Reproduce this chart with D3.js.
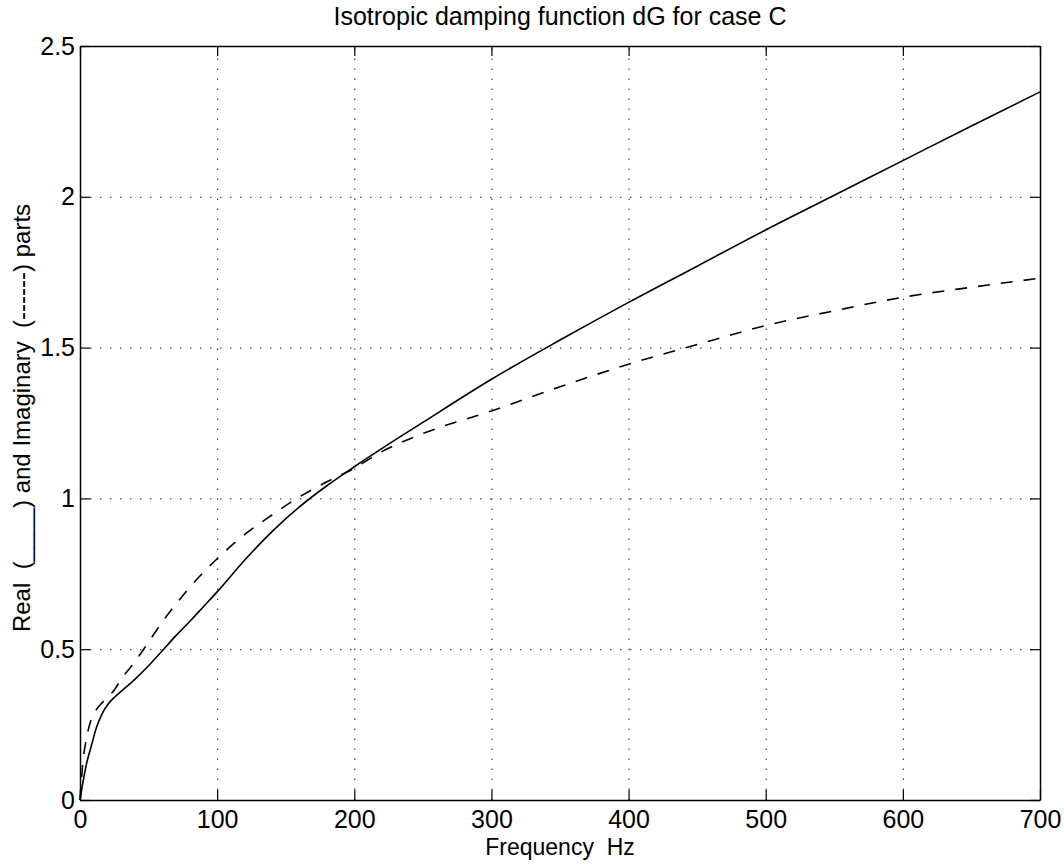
<!DOCTYPE html>
<html>
<head>
<meta charset="utf-8">
<script src="https://cdn.jsdelivr.net/npm/d3@7"></script>
<style>
    body { margin: 0; background: #fff; }
    #chart-area text { font-family: "Liberation Sans", Arial, Helvetica, sans-serif; fill: #000; white-space: pre; }
    .grid line { stroke: #222; stroke-width: 1; stroke-dasharray: 1.5, 8.5; }
    .grid .domain { display: none; }
    .axis .domain { stroke: #000; stroke-width: 1.5; }
    .axis line { stroke: #000; stroke-width: 1.2; }
</style>
</head>
<body>
<div id="chart-area"></div>
<script>

// frequency samples (Hz) and the two parts of dG
let frequency = [0, 2, 5, 8, 12, 16, 20, 25, 30, 40, 50, 60, 70, 80, 90, 100, 120, 140, 160, 180, 200, 220, 250, 300, 350, 400, 450, 500, 550, 600, 650, 700];
let realPart = [0, 0.055, 0.125, 0.175, 0.24, 0.285, 0.315, 0.34, 0.36, 0.40, 0.445, 0.495, 0.545, 0.592, 0.641, 0.69, 0.795, 0.89, 0.972, 1.042, 1.105, 1.165, 1.252, 1.395, 1.525, 1.65, 1.77, 1.89, 2.005, 2.12, 2.235, 2.348];
let imagPart = [0, 0.12, 0.21, 0.265, 0.30, 0.322, 0.34, 0.365, 0.40, 0.458, 0.524, 0.59, 0.65, 0.705, 0.755, 0.80, 0.88, 0.945, 1.005, 1.055, 1.10, 1.155, 1.215, 1.29, 1.37, 1.445, 1.51, 1.573, 1.622, 1.667, 1.70, 1.73];

let xTicks = [0, 100, 200, 300, 400, 500, 600, 700];
let yTicks = [0, 0.5, 1, 1.5, 2, 2.5];

let chartTitle = "Isotropic damping function dG for case C";
let xTitle = "Frequency  Hz";
let yTitle = "Real  (____) and Imaginary  (------) parts";


class DampingChart {
    constructor(parentElement) {
        this.parentElement = parentElement;
        this.initVis();
    }

    initVis() {
        let vis = this;

        vis.margin = {top: 46, right: 24, bottom: 64, left: 80};
        vis.width = 1064 - vis.margin.left - vis.margin.right;
        vis.height = 864 - vis.margin.top - vis.margin.bottom;

        vis.svg = d3.select("#" + vis.parentElement).append("svg")
            .attr("width", 1064)
            .attr("height", 864)
            .append("g")
            .attr("transform", `translate(${vis.margin.left}, ${vis.margin.top})`);

        vis.x = d3.scaleLinear()
            .domain([0, 700])
            .range([0, vis.width]);

        vis.y = d3.scaleLinear()
            .domain([0, 2.5])
            .range([vis.height, 0]);

        // dotted grid
        vis.svg.append("g")
            .attr("class", "grid")
            .attr("transform", `translate(0, ${vis.height})`)
            .call(d3.axisBottom(vis.x).tickValues(xTicks.slice(1, -1)).tickSize(-vis.height).tickFormat(""));

        vis.svg.append("g")
            .attr("class", "grid")
            .call(d3.axisLeft(vis.y).tickValues(yTicks.slice(1, -1)).tickSize(-vis.width).tickFormat(""));

        // box axes, ticks pointing inward like matlab
        vis.svg.append("g")
            .attr("class", "axis x-axis")
            .attr("transform", `translate(0, ${vis.height})`)
            .call(d3.axisBottom(vis.x).tickValues(xTicks).tickSizeInner(-10).tickSizeOuter(0).tickPadding(10))
            .selectAll("text").style("font-size", "25px");

        vis.svg.append("g")
            .attr("class", "axis")
            .call(d3.axisTop(vis.x).tickValues(xTicks).tickSizeInner(-10).tickSizeOuter(0).tickFormat(""));

        vis.svg.append("g")
            .attr("class", "axis y-axis")
            .call(d3.axisLeft(vis.y).tickValues(yTicks).tickSizeInner(-10).tickSizeOuter(0).tickPadding(5)
                .tickFormat(d3.format("~g")))
            .selectAll("text").style("font-size", "25px");

        vis.svg.append("g")
            .attr("class", "axis")
            .attr("transform", `translate(${vis.width}, 0)`)
            .call(d3.axisRight(vis.y).tickValues(yTicks).tickSizeInner(-10).tickSizeOuter(0).tickFormat(""));

        // titles
        vis.svg.append("text")
            .attr("x", vis.width / 2)
            .attr("y", -21)
            .attr("text-anchor", "middle")
            .style("font-size", "25px")
            .text(chartTitle);

        vis.svg.append("text")
            .attr("x", vis.width / 2)
            .attr("y", vis.height + 55)
            .attr("text-anchor", "middle")
            .style("font-size", "23px")
            .text(xTitle);

        vis.svg.append("text")
            .attr("transform", `translate(${-50}, ${vis.height / 2 - 5}) rotate(-90)`)
            .attr("text-anchor", "middle")
            .style("font-size", "24px")
            .text(yTitle);

        vis.wrangleData();
    }

    wrangleData() {
        let vis = this;

        vis.realData = frequency.map((f, i) => ({f: f, v: realPart[i]}));
        vis.imagData = frequency.map((f, i) => ({f: f, v: imagPart[i]}));

        vis.updateVis();
    }

    updateVis() {
        let vis = this;

        let line = d3.line()
            .x(d => vis.x(d.f))
            .y(d => vis.y(d.v))
            .curve(d3.curveMonotoneX);

        vis.svg.append("path")
            .datum(vis.realData)
            .attr("class", "real-line")
            .attr("fill", "none")
            .attr("stroke", "#000")
            .attr("stroke-width", 1.6)
            .attr("d", line);

        vis.svg.append("path")
            .datum(vis.imagData)
            .attr("class", "imag-line")
            .attr("fill", "none")
            .attr("stroke", "#000")
            .attr("stroke-width", 1.6)
            .attr("stroke-dasharray", "12,11")
            .attr("d", line);
    }
}

new DampingChart("chart-area");

</script>
</body>
</html>
